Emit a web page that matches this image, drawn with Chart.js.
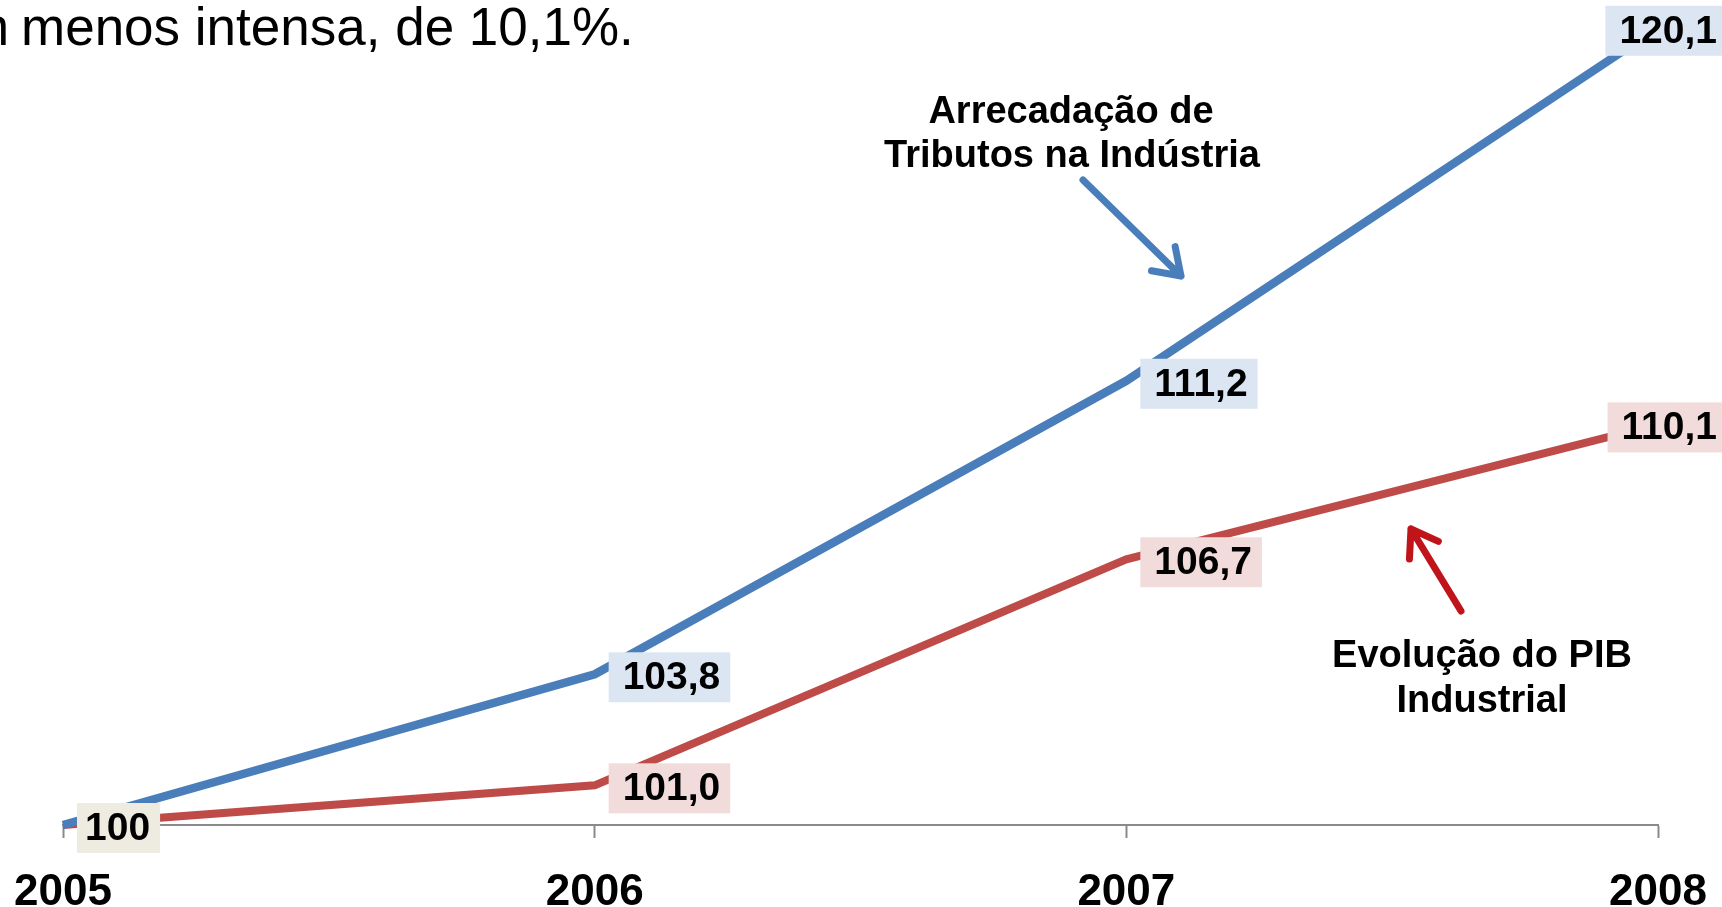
<!DOCTYPE html>
<html lang="pt-BR">
<head>
<meta charset="utf-8">
<title>Arrecadação x PIB Industrial</title>
<script src="https://cdn.jsdelivr.net/npm/chart.js@4.4.1/dist/chart.umd.min.js"></script>
<style>
    html, body { margin: 0; padding: 0; background: #fff; overflow: hidden; }
    #caixa { position: relative; width: 1722px; height: 907px; }
    .frase {
        position: absolute; top: 0; z-index: 2;
        font: 53px/53px "Liberation Sans", Arial, sans-serif;
        white-space: nowrap; color: #000;
    }
</style>
</head>
<body>
<div id="caixa">
    <div class="frase" style="left:-35px">m</div>
    <div class="frase" style="left:21px">menos intensa, de 10,1%.</div>
    <canvas id="lineChart"></canvas>
</div>
<script>
// Datos del gráfico
const anos = ["2005", "2006", "2007", "2008"];
const arrecadacao = [100, 103.8, 111.2, 120.1];
const pibIndustrial = [100, 101.0, 106.7, 110.1];

const fonte = '"Liberation Sans", Arial, sans-serif';

// rótulo "100" só aparece uma vez, em bege
function textoRotulo(v, j) {
    return j === 0 ? "100" : v.toFixed(1).replace(".", ",");
}

// ==============================
// RÓTULOS DE DADOS
// ==============================
const rotulosPlugin = {
    id: "rotulos",
    afterDatasetsDraw(chart) {
        const ctx = chart.ctx;
        ctx.save();
        ctx.font = "bold 39px " + fonte;
        ctx.textBaseline = "middle";
        chart.data.datasets.forEach((ds, i) => {
            const meta = chart.getDatasetMeta(i);
            meta.data.forEach((pt, j) => {
                if (i === 1 && j === 0) return;
                const txt = textoRotulo(ds.data[j], j);
                const w = ctx.measureText(txt).width;
                const padE = j === 0 ? 8 : 14;
                const padD = j === 0 ? 10 : 10;
                let esq = pt.x + 14;
                let larg = w + padE + padD;
                let xt = esq + padE;
                if (esq + larg > chart.width) {
                    xt = chart.width - 5 - w;
                    esq = xt - 14;
                    larg = chart.width - esq;
                }
                const cy = pt.y + 3;
                ctx.fillStyle = j === 0 ? "#EEECE1" : ds.fundoRotulo;
                ctx.fillRect(esq, cy - 25, larg, 50);
                ctx.fillStyle = "#000";
                ctx.fillText(txt, xt, cy + 1);
            });
        });
        ctx.restore();
    }
};

// ==============================
// ANOTAÇÕES E SETAS
// ==============================
function seta(ctx, x1, y1, x2, y2, cor) {
    const ang = Math.atan2(y2 - y1, x2 - x1);
    ctx.strokeStyle = cor;
    ctx.lineWidth = 7;
    ctx.lineCap = "round";
    ctx.beginPath();
    ctx.moveTo(x1, y1);
    ctx.lineTo(x2, y2);
    [-0.6, 0.6].forEach(d => {
        ctx.moveTo(x2, y2);
        ctx.lineTo(x2 - 30 * Math.cos(ang + d), y2 - 30 * Math.sin(ang + d));
    });
    ctx.stroke();
}

const anotacoesPlugin = {
    id: "anotacoes",
    afterDraw(chart) {
        const ctx = chart.ctx;
        ctx.save();
        ctx.font = "bold 38px " + fonte;
        ctx.fillStyle = "#000";
        ctx.textAlign = "center";
        ctx.textBaseline = "alphabetic";
        ctx.fillText("Arrecadação de", 1071, 123);
        ctx.fillText("Tributos na Indústria", 1072, 167);
        ctx.fillText("Evolução do PIB", 1482, 667);
        ctx.fillText("Industrial", 1482, 712);
        seta(ctx, 1083, 180, 1181, 276, "#4A7EBB");
        seta(ctx, 1461, 611, 1411, 529, "#C0141A");
        ctx.restore();
    }
};

// ==============================
// GRÁFICO LINEAL
// ==============================
const lineChart = new Chart(document.getElementById("lineChart"), {

    type: "line",

    data: {
        labels: anos,
        datasets: [{
            label: "Arrecadação de Tributos na Indústria",
            data: arrecadacao,
            borderColor: "#4A7EBB",
            borderWidth: 8.5,
            fundoRotulo: "#DCE6F2",
            pointRadius: 0,
            tension: 0,
            clip: false
        }, {
            label: "Evolução do PIB Industrial",
            data: pibIndustrial,
            borderColor: "#BE4B48",
            borderWidth: 8,
            fundoRotulo: "#F2DCDB",
            pointRadius: 0,
            tension: 0,
            clip: false
        }]
    },

    options: {
        responsive: true,
        maintainAspectRatio: false,
        animation: false,
        layout: {
            padding: { left: 63, right: 64, top: 0, bottom: 0 }
        },
        plugins: {
            legend: { display: false },
            tooltip: { enabled: false }
        },
        scales: {
            x: {
                offset: false,
                grid: {
                    drawOnChartArea: false,
                    drawTicks: true,
                    tickLength: 13,
                    tickColor: "#8A8A8A",
                    tickWidth: 2
                },
                border: { display: true, color: "#8A8A8A", width: 2 },
                ticks: {
                    color: "#000",
                    padding: 28,
                    maxRotation: 0,
                    font: { family: fonte, size: 44, weight: "bold" }
                },
                afterFit(scale) {
                    scale.height = 82;
                    scale.paddingLeft = 0;
                    scale.paddingRight = 0;
                }
            },
            y: {
                display: false,
                min: 100,
                max: 120.8
            }
        }
    },

    plugins: [rotulosPlugin, anotacoesPlugin]
});
</script>
</body>
</html>
